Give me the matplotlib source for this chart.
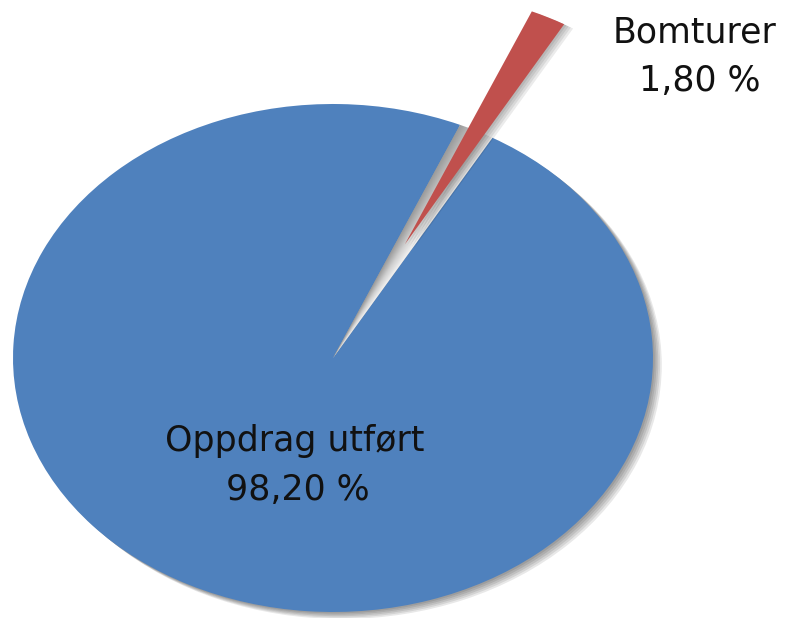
import numpy as np
import matplotlib.pyplot as plt
from matplotlib.patches import Wedge
from matplotlib.colors import LinearSegmentedColormap

labels = ['Oppdrag utført', 'Bomturer']
shares = [98.20, 1.80]
pct_text = ['98,20 %', '1,80 %']
colors = ['#4F81BD', '#C0504D']

START = 66.6
EXPLODE = 0.5

fig = plt.figure(figsize=(8, 6.18), dpi=100)
ax = fig.add_axes([0, 0, 1, 1])

# soft shadow under the whole pie (down and to the right)
for k in range(5):
    d = 0.005 * (k + 1)
    ax.add_patch(Wedge((d * 1.1, -d * 1.1), 1, 0, 360, color='k',
                       alpha=0.09, lw=0, zorder=0))

wedges, _ = ax.pie(shares, colors=colors, startangle=START, counterclock=True,
                   explode=[0, EXPLODE], radius=1, wedgeprops=dict(lw=0),
                   frame=False)
for w in wedges:
    w.set_zorder(2)

# gap left by the pulled-out slice, shaded grey
frac = shares[1] / sum(shares)
t2 = START
t1 = START - 360 * frac
gap = Wedge((0, 0), 1, t1, t2, lw=0, fc='none')
ax.add_patch(gap)
xs = np.linspace(0, 0.6, 200)
ys = np.linspace(0, 1.0, 300)
X, Y = np.meshgrid(xs, ys)
th = np.degrees(np.arctan2(Y, X))
val = np.clip((th - t1) / (t2 - t1), 0, 1)
cmap = LinearSegmentedColormap.from_list('g', ['#f2f2f2', '#d0d0d0', '#9a9a9a'])
im = ax.imshow(val, extent=[0, 0.6, 0, 1.0], origin='lower', cmap=cmap,
               aspect='auto', zorder=3, interpolation='bilinear')
im.set_clip_path(gap)

# shadow for the red slice
red = wedges[1]
mid = np.radians((t1 + t2) / 2)
cx, cy = EXPLODE * np.cos(mid), EXPLODE * np.sin(mid)
for k in range(4):
    d = 0.007 * (k + 1)
    ax.add_patch(Wedge((cx + d, cy - d * 0.6), 1, t1, t2, color='k',
                       alpha=0.08, lw=0, zorder=3.5))
red.set_zorder(4)

font = 'DejaVu Sans'
tc = '#111111'
fs = 25
ax.text(-0.12, -0.325, labels[0], ha='center', va='center', fontsize=fs,
        family=font, color=tc, zorder=5)
ax.text(-0.11, -0.52, pct_text[0], ha='center', va='center', fontsize=fs,
        family=font, color=tc, zorder=5)
ax.text(1.13, 1.28, labels[1], ha='center', va='center', fontsize=fs,
        family=font, color=tc, zorder=5)
ax.text(1.145, 1.09, pct_text[1], ha='center', va='center', fontsize=fs,
        family=font, color=tc, zorder=5)

ax.set_aspect('auto')
ax.set_xlim(-333 / 320, 467 / 320)
ax.set_ylim(-260 / 254, 358 / 254)
ax.axis('off')

fig.savefig('out.png', dpi=100)
